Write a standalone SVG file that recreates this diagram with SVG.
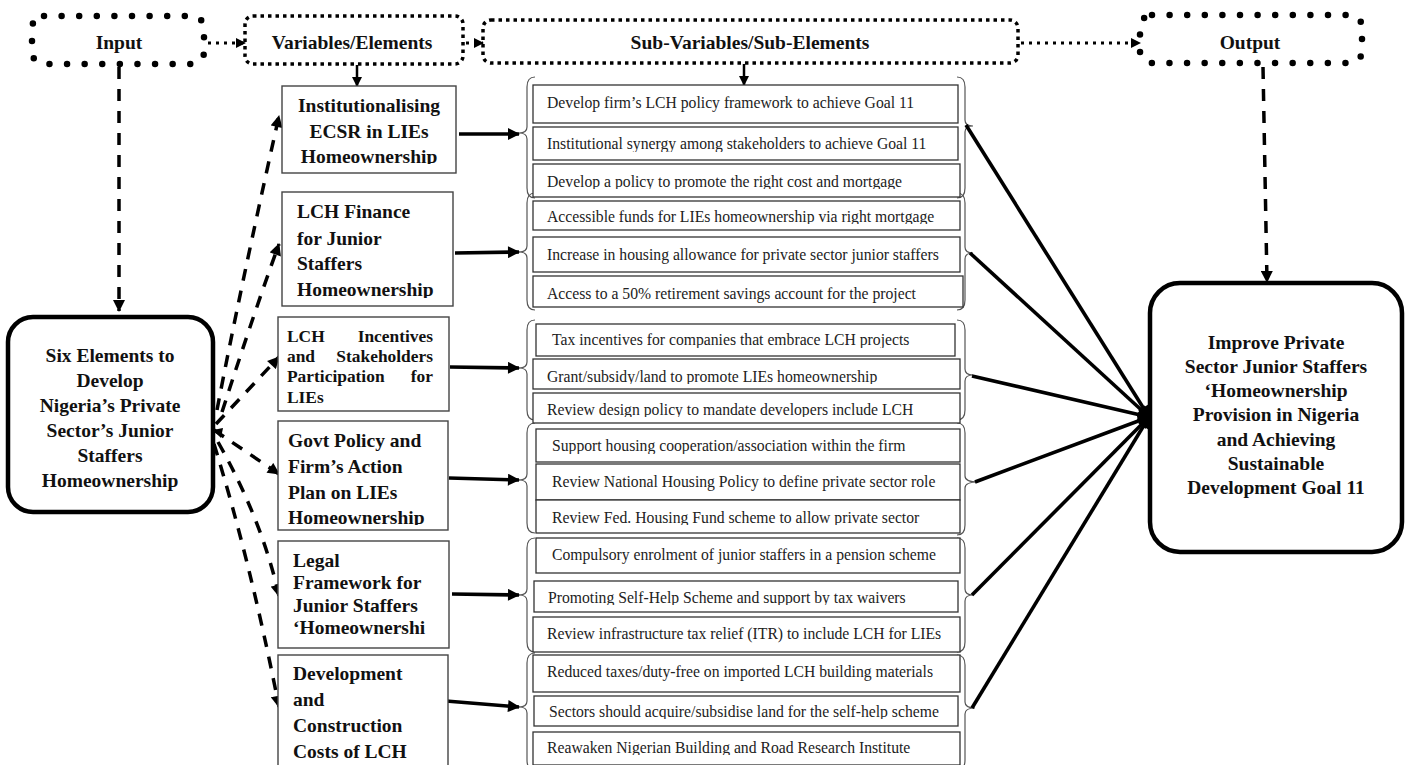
<svg xmlns="http://www.w3.org/2000/svg" width="1409" height="765" viewBox="0 0 1409 765">
<style>
.tb{font-family:"Liberation Serif","Times New Roman",serif;font-weight:bold;font-size:19.5px;fill:#111}
.ts{font-family:"Liberation Serif","Times New Roman",serif;font-size:15.7px;fill:#222}
.c{text-anchor:middle}
.e{text-anchor:end}
.vb{fill:#fff;stroke:#444;stroke-width:1.4}
.sb{fill:#fff;stroke:#333;stroke-width:1.3}
.br{fill:none;stroke:#555;stroke-width:1.2}
.big{fill:#fff;stroke:#000;stroke-width:4.5}
.dash{fill:none;stroke:#000;stroke-width:3.5;stroke-dasharray:12 10}
.thick{fill:none;stroke:#000;stroke-width:3.6}
.dot{fill:none;stroke:#000;stroke-width:3;stroke-dasharray:3 5}
</style>
<defs>
<marker id="ah" viewBox="0 0 12 12" refX="11" refY="6" markerWidth="13" markerHeight="12" markerUnits="userSpaceOnUse" orient="auto"><path d="M0,0 L12,6 L0,12 z" fill="#000"/></marker>
<marker id="ahs" viewBox="0 0 10 10" refX="9" refY="5" markerWidth="10" markerHeight="10" markerUnits="userSpaceOnUse" orient="auto"><path d="M0,0 L10,5 L0,10 z" fill="#000"/></marker>
<clipPath id="cv1"><rect x="282" y="86" width="174" height="78"/></clipPath>
<clipPath id="cv2"><rect x="282" y="192" width="171" height="106"/></clipPath>
<clipPath id="cv4"><rect x="278" y="421" width="170" height="104"/></clipPath>
<clipPath id="cs2"><rect x="533" y="127" width="425" height="25"/></clipPath>
<clipPath id="cs3"><rect x="533" y="164" width="427" height="25"/></clipPath>
<clipPath id="cs4"><rect x="533" y="201" width="427" height="23"/></clipPath>
<clipPath id="cs7"><rect x="536" y="324" width="419" height="24"/></clipPath>
<clipPath id="cs8"><rect x="533" y="359" width="427" height="25"/></clipPath>
<clipPath id="cs9"><rect x="533" y="393" width="427" height="24"/></clipPath>
<clipPath id="cs10"><rect x="536" y="429" width="424" height="25"/></clipPath>
<clipPath id="cs12"><rect x="536" y="500" width="424" height="25"/></clipPath>
<clipPath id="cs14"><rect x="534" y="581" width="424" height="24"/></clipPath>
<clipPath id="cs17"><rect x="534" y="696" width="424" height="23"/></clipPath>
<clipPath id="cs18"><rect x="533" y="732" width="427" height="23"/></clipPath>
</defs>
<rect width="1409" height="765" fill="#fff"/>

<g id="braces">
<path class="br" d="M535,77 Q527,77 527,87 L527,127 Q527,133 519,133 Q527,133 527,139 L527,188 Q527,198 535,198"/>
<path class="br" d="M535,193 Q527,193 527,203 L527,246 Q527,252 519,252 Q527,252 527,258 L527,300 Q527,310 535,310"/>
<path class="br" d="M535,320 Q527,320 527,330 L527,362 Q527,368 519,368 Q527,368 527,374 L527,410 Q527,420 535,420"/>
<path class="br" d="M535,423 Q527,423 527,433 L527,474 Q527,480 519,480 Q527,480 527,486 L527,523 Q527,533 535,533"/>
<path class="br" d="M535,538 Q527,538 527,548 L527,589 Q527,595 519,595 Q527,595 527,601 L527,642 Q527,652 535,652"/>
<path class="br" d="M535,653 Q527,653 527,663 L527,701 Q527,707 519,707 Q527,707 527,713 L527,760 Q527,770 535,770"/>
<path class="br" d="M957,77 Q965,77 965,87 L965,120 Q965,126 973,126 Q965,126 965,132 L965,188 Q965,198 957,198"/>
<path class="br" d="M957,193 Q965,193 965,203 L965,247 Q965,253 973,253 Q965,253 965,259 L965,300 Q965,310 957,310"/>
<path class="br" d="M957,320 Q965,320 965,330 L965,369 Q965,375 973,375 Q965,375 965,381 L965,410 Q965,420 957,420"/>
<path class="br" d="M957,423 Q965,423 965,433 L965,476 Q965,482 978,482 Q965,482 965,488 L965,525 Q965,535 957,535"/>
<path class="br" d="M957,538 Q965,538 965,548 L965,589 Q965,595 973,595 Q965,595 965,601 L965,642 Q965,652 957,652"/>
<path class="br" d="M957,655 Q965,655 965,665 L965,702 Q965,708 975,708 Q965,708 965,714 L965,760 Q965,770 957,770"/>
</g>

<g id="connectors">
<line class="dot" x1="208" y1="43" x2="245" y2="43" marker-end="url(#ahs)"/>
<line class="dot" x1="466" y1="43" x2="483" y2="43" marker-end="url(#ahs)"/>
<line class="dot" x1="1021" y1="43" x2="1140" y2="43" marker-end="url(#ahs)"/>
<line class="dash" x1="119" y1="67" x2="119" y2="311" marker-end="url(#ah)"/>
<line class="thick" style="stroke-width:2.5" x1="357" y1="65" x2="357" y2="86" marker-end="url(#ahs)"/>
<line class="thick" style="stroke-width:2.5" x1="744" y1="64" x2="744" y2="85" marker-end="url(#ahs)"/>
<line class="dash" x1="1263" y1="67" x2="1267" y2="282" marker-end="url(#ah)"/>
<path class="dash" d="M217,410 Q240,290 279,116" marker-end="url(#ah)"/>
<path class="dash" d="M222,412 Q255,310 279,244" marker-end="url(#ah)"/>
<path class="dash" d="M216,424 L279,357" marker-end="url(#ah)"/>
<path class="dash" d="M214,430 L279,474" marker-end="url(#ah)"/>
<path class="dash" d="M218,442 Q262,520 279,596" marker-end="url(#ah)"/>
<path class="dash" d="M214,444 Q250,560 279,707" marker-end="url(#ah)"/>
<path d="M213,430 L223,428 L221,438 z" fill="#000"/>
<line class="thick" x1="459" y1="134" x2="519" y2="134" marker-end="url(#ah)"/>
<line class="thick" x1="455" y1="253" x2="519" y2="252" marker-end="url(#ah)"/>
<line class="thick" x1="450" y1="367" x2="519" y2="368" marker-end="url(#ah)"/>
<line class="thick" x1="449" y1="478" x2="519" y2="480" marker-end="url(#ah)"/>
<line class="thick" x1="452" y1="594" x2="519" y2="595" marker-end="url(#ah)"/>
<line class="thick" x1="446" y1="701" x2="519" y2="707" marker-end="url(#ah)"/>
<line class="thick" x1="966" y1="125" x2="1149" y2="417" marker-end="url(#ah)"/>
<line class="thick" x1="970" y1="253" x2="1149" y2="417" marker-end="url(#ah)"/>
<line class="thick" x1="972" y1="376" x2="1149" y2="417" marker-end="url(#ah)"/>
<line class="thick" x1="975" y1="482" x2="1149" y2="417" marker-end="url(#ah)"/>
<line class="thick" x1="972" y1="595" x2="1149" y2="417" marker-end="url(#ah)"/>
<line class="thick" x1="972" y1="708" x2="1149" y2="417" marker-end="url(#ah)"/>
</g>

<g id="input">
<rect x="32" y="16" width="172" height="48" rx="12" fill="none" stroke="#000" stroke-width="6.5" stroke-linecap="round" stroke-dasharray="0 17.6"/>
<text class="tb c" x="119" y="49">Input</text>
</g>
<g id="variables-header">
<rect x="245" y="16" width="218" height="48" rx="8" fill="none" stroke="#000" stroke-width="3.5" stroke-dasharray="3.5 4"/>
<text class="tb c" x="352" y="49">Variables/Elements</text>
</g>
<g id="subvariables-header">
<rect x="483" y="20" width="535" height="43" rx="8" fill="none" stroke="#000" stroke-width="3.5" stroke-dasharray="3.5 4"/>
<text class="tb c" x="750" y="49">Sub-Variables/Sub-Elements</text>
</g>
<g id="output-header">
<rect x="1140" y="15" width="222" height="48" rx="12" fill="none" stroke="#000" stroke-width="6.5" stroke-linecap="round" stroke-dasharray="0 17.6"/>
<text class="tb c" x="1250" y="49">Output</text>
</g>

<g id="six-elements">
<rect class="big" x="8" y="317" width="205" height="195" rx="25"/>
<text class="tb c" x="110"><tspan x="110" y="362">Six Elements to</tspan><tspan x="110" y="387">Develop</tspan><tspan x="110" y="412">Nigeria’s Private</tspan><tspan x="110" y="437">Sector’s Junior</tspan><tspan x="110" y="462">Staffers</tspan><tspan x="110" y="487">Homeownership</tspan></text>
</g>

<g id="goal-output">
<rect class="big" x="1150" y="283" width="252" height="269" rx="30"/>
<text class="tb c" x="1276"><tspan x="1276" y="349">Improve Private</tspan><tspan x="1276" y="373">Sector Junior Staffers</tspan><tspan x="1276" y="397">‘Homeownership</tspan><tspan x="1276" y="421">Provision in Nigeria</tspan><tspan x="1276" y="446">and Achieving</tspan><tspan x="1276" y="470">Sustainable</tspan><tspan x="1276" y="494">Development Goal 11</tspan></text>
</g>

<g id="var-institutionalising">
<rect class="vb" x="282" y="86" width="174" height="87"/>
<text class="tb c" clip-path="url(#cv1)"><tspan x="369" y="112">Institutionalising</tspan><tspan x="369" y="138">ECSR in LIEs</tspan><tspan x="369" y="163">Homeownership</tspan></text>
</g>
<g id="var-finance">
<rect class="vb" x="282" y="192" width="171" height="114"/>
<text class="tb" clip-path="url(#cv2)"><tspan x="297" y="218">LCH Finance</tspan><tspan x="297" y="245">for Junior</tspan><tspan x="297" y="270">Staffers</tspan><tspan x="297" y="296">Homeownership</tspan></text>
</g>
<g id="var-incentives">
<rect class="vb" x="278" y="317" width="171" height="94"/>
<g class="tb" style="font-size:17.4px">
<text x="287" y="342">LCH</text><text class="e" x="433" y="342">Incentives</text>
<text x="287" y="362">and</text><text class="e" x="433" y="362">Stakeholders</text>
<text x="287" y="382">Participation</text><text class="e" x="433" y="382">for</text>
<text x="287" y="403">LIEs</text>
</g>
</g>
<g id="var-policy">
<rect class="vb" x="278" y="421" width="170" height="109"/>
<text class="tb" clip-path="url(#cv4)"><tspan x="288" y="447">Govt Policy and</tspan><tspan x="288" y="473">Firm’s Action</tspan><tspan x="288" y="499">Plan on LIEs</tspan><tspan x="288" y="524">Homeownership</tspan></text>
</g>
<g id="var-legal">
<rect class="vb" x="278" y="541" width="171" height="107"/>
<text class="tb"><tspan x="293" y="567">Legal</tspan><tspan x="293" y="589">Framework for</tspan><tspan x="293" y="612">Junior Staffers</tspan><tspan x="293" y="634">‘Homeownershi</tspan></text>
</g>
<g id="var-costs">
<rect class="vb" x="278" y="655" width="170" height="115"/>
<text class="tb"><tspan x="293" y="680">Development</tspan><tspan x="293" y="706">and</tspan><tspan x="293" y="732">Construction</tspan><tspan x="293" y="758">Costs of LCH</tspan></text>
</g>

<g id="sub-1"><rect class="sb" x="533" y="85" width="425" height="38"/><text class="ts" x="547" y="108">Develop firm’s LCH policy framework to achieve Goal 11</text></g>
<g id="sub-2"><rect class="sb" x="533" y="127" width="425" height="33"/><text class="ts" x="547" y="149" clip-path="url(#cs2)">Institutional synergy among stakeholders to achieve Goal 11</text></g>
<g id="sub-3"><rect class="sb" x="533" y="164" width="427" height="33"/><text class="ts" x="547" y="187" clip-path="url(#cs3)">Develop a policy to promote the right cost and mortgage</text></g>
<g id="sub-4"><rect class="sb" x="533" y="201" width="427" height="29"/><text class="ts" x="547" y="222" clip-path="url(#cs4)">Accessible funds for LIEs homeownership via right mortgage</text></g>
<g id="sub-5"><rect class="sb" x="533" y="237" width="427" height="35"/><text class="ts" x="547" y="260">Increase in housing allowance for private sector junior staffers</text></g>
<g id="sub-6"><rect class="sb" x="533" y="276" width="430" height="31"/><text class="ts" x="547" y="299">Access to a 50% retirement savings account for the project</text></g>
<g id="sub-7"><rect class="sb" x="536" y="324" width="419" height="32"/><text class="ts" x="552" y="345" clip-path="url(#cs7)">Tax incentives for companies that embrace LCH projects</text></g>
<g id="sub-8"><rect class="sb" x="533" y="359" width="427" height="30"/><text class="ts" x="547" y="382" clip-path="url(#cs8)">Grant/subsidy/land to promote LIEs homeownership</text></g>
<g id="sub-9"><rect class="sb" x="533" y="393" width="427" height="30"/><text class="ts" x="547" y="415" clip-path="url(#cs9)">Review design policy to mandate developers include LCH</text></g>
<g id="sub-10"><rect class="sb" x="536" y="429" width="424" height="33"/><text class="ts" x="552" y="451" clip-path="url(#cs10)">Support housing cooperation/association within the firm</text></g>
<g id="sub-11"><rect class="sb" x="536" y="464" width="424" height="36"/><text class="ts" x="552" y="487">Review National Housing Policy to define private sector role</text></g>
<g id="sub-12"><rect class="sb" x="536" y="500" width="424" height="33"/><text class="ts" x="552" y="523" clip-path="url(#cs12)">Review Fed. Housing Fund scheme to allow private sector</text></g>
<g id="sub-13"><rect class="sb" x="536" y="538" width="424" height="35"/><text class="ts" x="552" y="560">Compulsory enrolment of junior staffers in a pension scheme</text></g>
<g id="sub-14"><rect class="sb" x="534" y="581" width="424" height="31"/><text class="ts" x="548" y="603" clip-path="url(#cs14)">Promoting Self-Help Scheme and support by tax waivers</text></g>
<g id="sub-15"><rect class="sb" x="533" y="617" width="427" height="35"/><text class="ts" x="547" y="639">Review infrastructure tax relief (ITR) to include LCH for LIEs</text></g>
<g id="sub-16"><rect class="sb" x="533" y="655" width="427" height="37"/><text class="ts" x="547" y="677">Reduced taxes/duty-free on imported LCH building materials</text></g>
<g id="sub-17"><rect class="sb" x="534" y="696" width="424" height="30"/><text class="ts" x="549" y="717" clip-path="url(#cs17)">Sectors should acquire/subsidise land for the self-help scheme</text></g>
<g id="sub-18"><rect class="sb" x="533" y="732" width="427" height="33"/><text class="ts" x="547" y="753" clip-path="url(#cs18)">Reawaken Nigerian Building and Road Research Institute</text></g>
</svg>
